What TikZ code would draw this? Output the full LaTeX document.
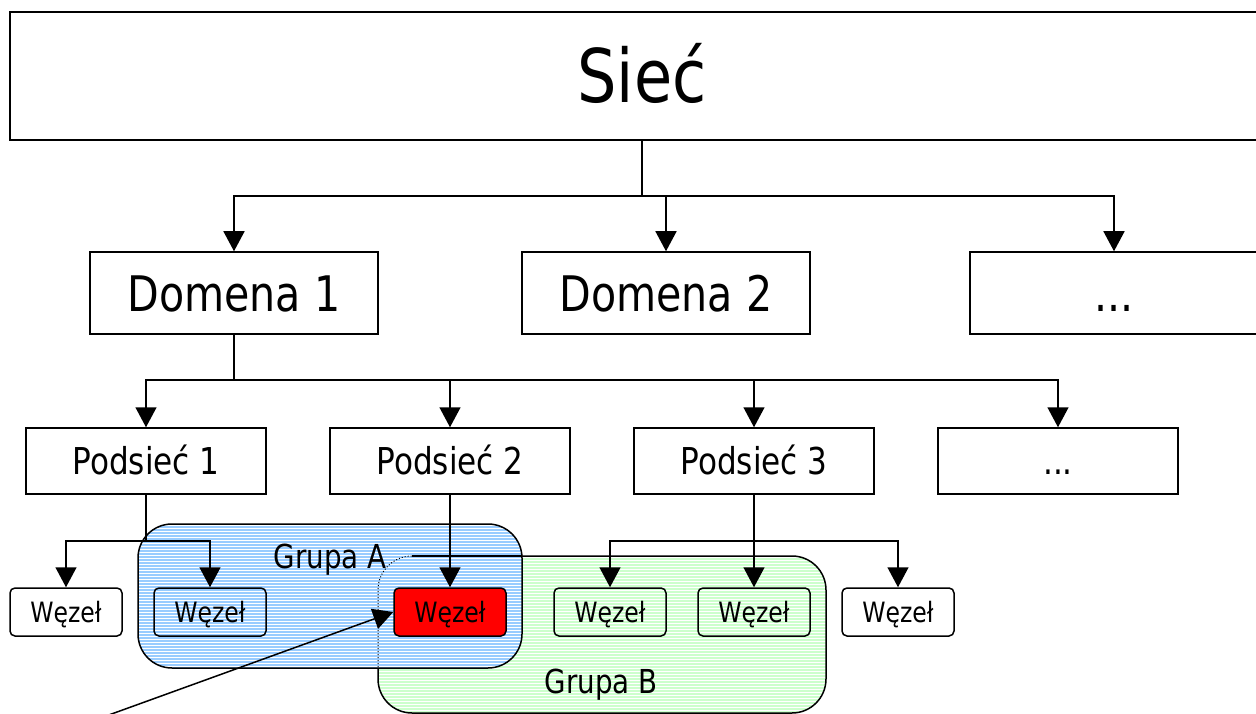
\documentclass[tikz,border=0pt]{standalone}
\usepackage{fontspec}
\setmainfont{DejaVu Sans}[FakeStretch=0.84]
\usetikzlibrary{arrows.meta}
\definecolor{grpA}{RGB}{153,204,255}
\definecolor{grpB}{RGB}{204,255,204}
\definecolor{wred}{RGB}{255,0,0}
\tikzset{
  box/.style={draw=black, line width=1.5pt, inner sep=0pt, text depth=0pt},
  siebox/.style={box, minimum width=1264pt, minimum height=128pt, text height=54pt, font=\fontsize{74}{80}\selectfont},
  dombox/.style={box, minimum width=288pt, minimum height=82pt, text height=36pt, font=\fontsize{49}{56}\selectfont},
  podbox/.style={box, minimum width=240pt, minimum height=66pt, text height=27pt, font=\fontsize{37}{42}\selectfont},
  wezbox/.style={box, rounded corners=5pt, minimum width=112pt, minimum height=48pt, text height=20pt, font=\fontsize{28}{32}\selectfont},
  grplabel/.style={anchor=base, inner sep=0pt, font=\fontsize{33}{38}\selectfont},
  arr/.style={line width=1.5pt, -{Triangle[length=20pt,width=21pt]}},
  conn/.style={line width=1.5pt},
}
\begin{document}
\begin{tikzpicture}[x=1pt,y=-1pt]
\useasboundingbox (0,0) rectangle (1256,714);
% Grupa B (green)
\begin{scope}
  \clip[rounded corners=34pt] (378,556) rectangle (826,713);
  \fill[grpB] (378,556) rectangle (826,713);
  \foreach \y in {557.5,560.5,...,714} \draw[white,line width=1pt] (378,\y) -- (826,\y);
\end{scope}
\draw[line width=1.5pt, rounded corners=34pt] (378,556) rectangle (826,713);
% Grupa A (blue)
\begin{scope}
  \clip[rounded corners=34pt] (138,524) rectangle (522,668);
  \fill[grpA] (138,524) rectangle (522,668);
  \foreach \y in {525.5,528.5,...,668} \draw[white,line width=1pt] (138,\y) -- (522,\y);
\end{scope}
\draw[line width=1.5pt, rounded corners=34pt] (138,524) rectangle (522,668);
% hidden outline of Grupa B under Grupa A
\draw[line width=1pt, dotted] (378,667) -- (378,590) arc[start angle=180, end angle=90, radius=34pt];
\draw[line width=1.5pt] (412,556) -- (522,556);
\node[grplabel] (ga) at (330,568) {Grupa A};
\node[grplabel] (gb) at (601,693) {Grupa B};
% nodes
\node[siebox] (sie) at (642,76) {Sieć};
\node[dombox] (d1) at (234,293) {Domena 1};
\node[dombox] (d2) at (666,293) {Domena 2};
\node[dombox] (d3) at (1114,293) {...};
\node[podbox] (p1) at (146,461) {Podsieć 1};
\node[podbox] (p2) at (450,461) {Podsieć 2};
\node[podbox] (p3) at (754,461) {Podsieć 3};
\node[podbox] (p4) at (1058,461) {...};
\node[wezbox] (w1) at (66,612) {Węzeł};
\node[wezbox] (w2) at (210,612) {Węzeł};
\node[wezbox, fill=wred] (w3) at (450,612) {Węzeł};
\node[wezbox] (w4) at (610,612) {Węzeł};
\node[wezbox] (w5) at (754,612) {Węzeł};
\node[wezbox] (w6) at (898,612) {Węzeł};
% connectors
\coordinate (b0) at (642,196);
\draw[conn] (sie.south) -- (b0);
\draw[arr] (b0) -| (d1.north);
\draw[arr] (b0) -| (d2.north);
\draw[arr] (b0) -| (d3.north);
\coordinate (b1) at (234,380);
\draw[conn] (d1.south) -- (b1);
\draw[arr] (b1) -| (p1.north);
\draw[arr] (b1) -| (p2.north);
\draw[arr] (b1) -| (p3.north);
\draw[arr] (b1) -| (p4.north);
\coordinate (b2) at (146,541);
\draw[conn] (p1.south) -- (b2);
\draw[arr] (b2) -| (w1.north);
\draw[arr] (b2) -| (w2.north);
\draw[arr] (p2.south) -- (w3.north);
\draw[arr] (p3.south) -- (w5.north);
\coordinate (b3) at (754,541);
\draw[arr] (b3) -| (w4.north);
\draw[arr] (b3) -| (w6.north);
\coordinate (pt) at (106,716);
\draw[arr] (pt) -- (w3.west);
\end{tikzpicture}
\end{document}
